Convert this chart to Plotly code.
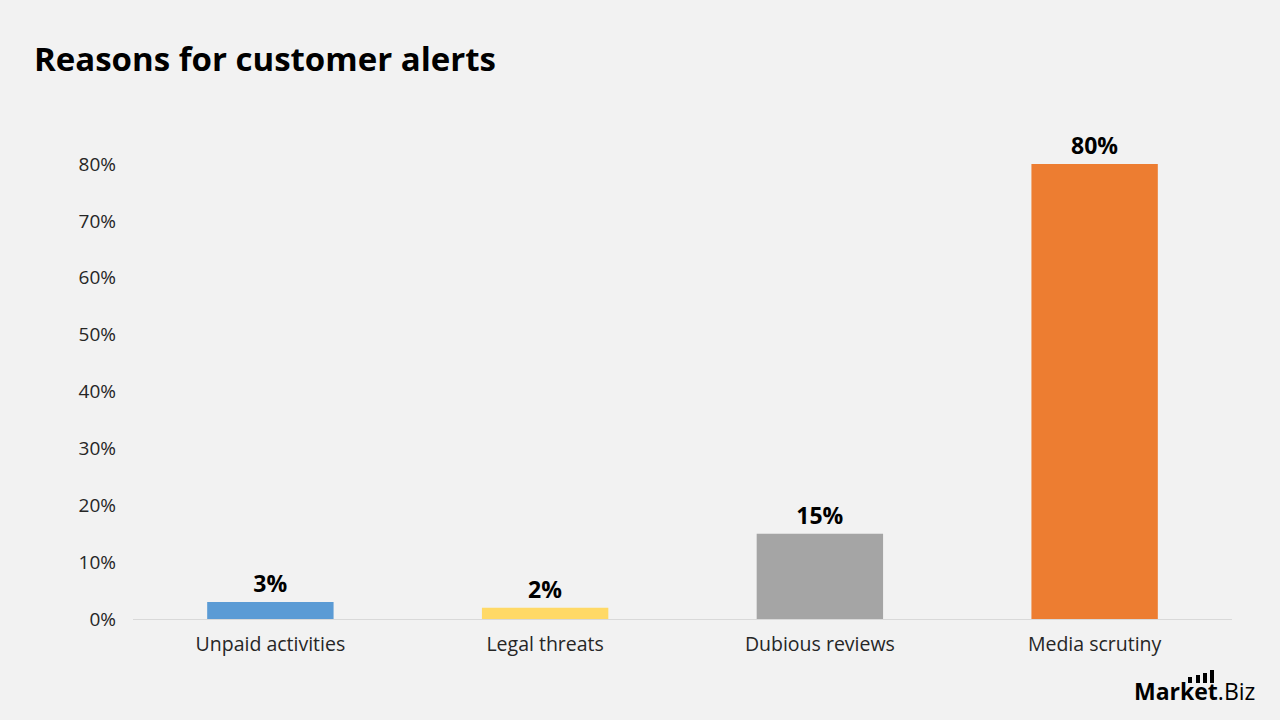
import plotly.graph_objects as go

categories = ["Unpaid activities", "Legal threats", "Dubious reviews", "Media scrutiny"]
values = [3, 2, 15, 80]
labels = ["3%", "2%", "15%", "80%"]
colors = ["#5B9BD5", "#FFD966", "#A5A5A5", "#ED7D31"]
tick_vals = [0, 10, 20, 30, 40, 50, 60, 70, 80]
tick_text = ["0%", "10%", "20%", "30%", "40%", "50%", "60%", "70%", "80%"]

FONT = "Open Sans"
L, R, T, B = 133, 48, 164, 101
W, H = 1280 - L - R, 720 - T - B


def px(xp, yp):
    return (xp - L) / W, (720 - B - yp) / H


fig = go.Figure(
    go.Bar(
        x=categories,
        y=values,
        marker=dict(color=colors, line=dict(width=0)),
        text=labels,
        textposition="outside",
        textfont=dict(family=FONT, size=23, color="#000000", weight="bold"),
        cliponaxis=False,
        width=0.46,
    )
)

lx, ly = px(1257, 691)

fig.update_layout(
    width=1280,
    height=720,
    paper_bgcolor="#F2F2F2",
    plot_bgcolor="#F2F2F2",
    margin=dict(l=L, r=R, t=T, b=B),
    showlegend=False,
    title=dict(
        text="<b>Reasons for customer alerts</b>",
        x=34 / 1280,
        xanchor="left",
        y=1 - 59 / 720,
        yanchor="middle",
        font=dict(family=FONT, size=33, color="#000000"),
    ),
    xaxis=dict(
        showgrid=False,
        showline=True,
        linecolor="#D9D9D9",
        linewidth=1,
        ticks="",
        tickfont=dict(family=FONT, size=19.5, color="#262626"),
        ticklabelstandoff=8,
    ),
    yaxis=dict(
        range=[0, 80],
        tickvals=tick_vals,
        ticktext=tick_text,
        showgrid=False,
        zeroline=False,
        showline=False,
        ticks="",
        tickfont=dict(family=FONT, size=19, color="#262626"),
        ticklabelstandoff=16,
    ),
    annotations=[
        dict(
            text="<b>Market</b>.Biz",
            xref="paper",
            yref="paper",
            x=lx,
            xanchor="right",
            y=ly,
            yanchor="middle",
            showarrow=False,
            font=dict(family=FONT, size=23, color="#000000"),
        )
    ],
)

# small bar icon of the logo (decoration, pixel-placed in paper space)
icon = [(1188, 683, 1192, 677), (1196, 683, 1200, 675), (1203, 683, 1207, 673), (1210, 683, 1214, 670)]
for x0p, y0p, x1p, y1p in icon:
    x0, y0 = px(x0p, y0p)
    x1, y1 = px(x1p, y1p)
    fig.add_shape(type="rect", xref="paper", yref="paper", x0=x0, y0=y0, x1=x1, y1=y1,
                  fillcolor="#000000", line=dict(width=0))

fig.write_html("out.html")
